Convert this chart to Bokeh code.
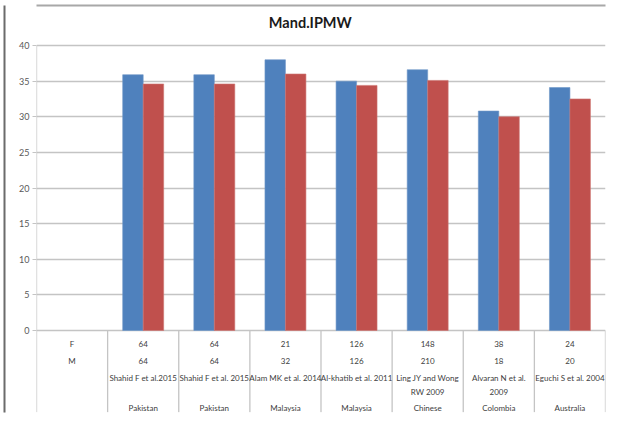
from bokeh.plotting import figure
from bokeh.models import Range1d, FixedTicker, ColumnDataSource, LinearAxis
from bokeh.core.properties import value
from bokeh.embed import file_html
from bokeh.resources import INLINE

# ---- data ----
title = "Mand.IPMW"
studies = ["Shahid F et al.2015", "Shahid F et al. 2015", "Alam MK et al. 2014",
           "Al-khatib et al. 2011", "Ling JY and Wong\nRW 2009", "Alvaran N et al.\n2009",
           "Eguchi S et al. 2004"]
countries = ["Pakistan", "Pakistan", "Malaysia", "Malaysia", "Chinese", "Colombia", "Australia"]
n_female = [64, 64, 21, 126, 148, 38, 24]
n_male = [64, 64, 32, 126, 210, 18, 20]
female = [35.9, 35.9, 38.0, 35.0, 36.6, 30.8, 34.1]
male = [34.6, 34.6, 36.0, 34.4, 35.1, 30.0, 32.5]
series_names = ["F", "M"]
y_ticks = [0, 5, 10, 15, 20, 25, 30, 35, 40]

BLUE = "#4F81BD"
RED = "#C0504D"
GRID = "#C4C4C4"
TXT = "#404040"
FONT = "Lato"

# ---- layout ----
W, H = 609, 417
PX = 7.125            # pixels per unit
ZERO = 330            # pixel row of value 0
Y_TOP, Y_BOT = (ZERO - 5) / PX, -(412 - ZERO) / PX
ncat = len(studies) + 1  # first column holds the row headers
BW = 0.288

p = figure(width=W, height=H, output_backend="svg", toolbar_location=None,
           x_range=Range1d(0, ncat), y_range=Range1d(Y_BOT, Y_TOP),
           x_axis_location=None, min_border_left=36, min_border_right=4,
           min_border_top=5, min_border_bottom=5)
p.outline_line_color = None
p.background_fill_color = "white"
p.border_fill_color = "white"

p.xgrid.visible = False
p.ygrid.ticker = FixedTicker(ticks=y_ticks)
p.ygrid.grid_line_color = GRID
p.ygrid.grid_line_width = 1.3

ax = p.yaxis[0]
ax.ticker = FixedTicker(ticks=y_ticks)
ax.axis_line_color = None
ax.major_tick_line_color = GRID
ax.major_tick_out = 4
ax.major_tick_in = 0
ax.minor_tick_line_color = None
ax.major_label_text_font = FONT
ax.major_label_text_font_size = "9px"
ax.major_label_text_color = "#595959"
ax.major_label_standoff = 3
ax.axis_label = "\u2002"
ax.axis_label_text_font_size = "8px"
ax.axis_label_standoff = 0

# chart-area border (left and top), drawn as bare axis lines
def border_axis(color):
    a = LinearAxis(ticker=FixedTicker(ticks=[]), major_tick_out=0, major_tick_in=0,
                   minor_tick_out=0, minor_tick_in=0, major_label_standoff=0,
                   axis_line_color=color, axis_line_width=2)
    return a
p.add_layout(border_axis("#6b6b6b"), "left")
p.add_layout(border_axis("#a8a8a8"), "above")

xc = [i + 1.5 for i in range(len(studies))]
src = ColumnDataSource(dict(
    xc=xc,
    bl=[x - BW for x in xc], bm=xc, br=[x + BW for x in xc],
    female=female, male=male,
    nf=[str(v) for v in n_female], nm=[str(v) for v in n_male],
    study=studies, country=countries,
))

p.quad(left="bl", right="bm", bottom=0, top="female", source=src,
       fill_color=BLUE, line_color="#6f97c8", line_width=0.6)
p.quad(left="bm", right="br", bottom=0, top="male", source=src,
       fill_color=RED, line_color="#cc7572", line_width=0.6)

# table lines
p.segment(x0=[0], y0=[Y_BOT + 0.05], x1=[0], y1=[40], line_color=GRID, line_width=1.3)
bx = list(range(1, ncat + 1))
p.segment(x0=bx, y0=[Y_BOT + 0.05] * len(bx), x1=bx, y1=[0] * len(bx),
          line_color=GRID, line_width=1.3)

def ry(px_below_zero):
    return -px_below_zero / PX

tk = dict(text_font=value(FONT), text_font_size="8px", text_color=TXT,
          text_align="center")
# row headers
p.text(x=[0.5, 0.5], y=[ry(13), ry(30)], text=series_names,
       text_baseline="middle", **tk)
p.text(x="xc", y=ry(13), text="nf", source=src, text_baseline="middle", **tk)
p.text(x="xc", y=ry(30), text="nm", source=src, text_baseline="middle", **tk)
p.text(x="xc", y=ry(42.5), text="study", source=src, text_baseline="top",
       text_line_height=1.35, **tk)
p.text(x="xc", y=ry(77), text="country", source=src, text_baseline="middle", **tk)

# title
p.text(x=[3.85], y=[(ZERO - 22) / PX], text=[title], text_font=value(FONT),
       text_font_size="14.5px", text_font_style="bold", text_color="#1a1a1a",
       text_align="center", text_baseline="middle")

open("out.html", "w").write(file_html(p, INLINE))
